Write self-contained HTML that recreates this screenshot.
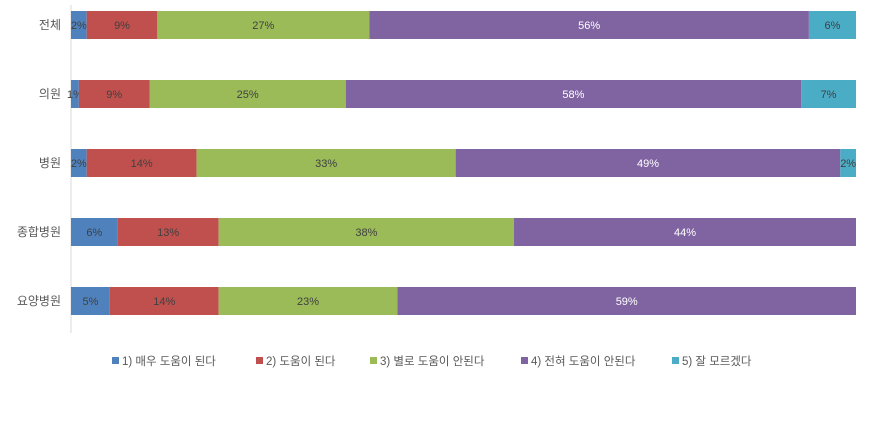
<!DOCTYPE html>
<html><head><meta charset="utf-8"><style>
body{margin:0;background:#fff;}
svg text{font-family:"Liberation Sans","Noto Sans CJK KR",sans-serif;}
</style></head><body>
<svg width="889" height="421" id="chart">
<line x1="71" y1="5" x2="71" y2="333" stroke="#d9d9d9"/>
</svg>
<script>
const categories=["전체","의원","병원","종합병원","요양병원"];
const seriesNames=["1) 매우 도움이 된다","2) 도움이 된다","3) 별로 도움이 안된다","4) 전혀 도움이 안된다","5) 잘 모르겠다"];
const s1=[2,1,2,6,5];
const s2=[9,9,14,13,14];
const s3=[27,25,33,38,23];
const s4=[56,58,49,44,59];
const s5=[6,7,2,0,0];
const colors=["#4f81bd","#c0504d","#9bbb59","#8064a2","#4bacc6"];
const series=[s1,s2,s3,s4,s5];
const svg=document.getElementById('chart');
const NS="http://www.w3.org/2000/svg";
const x0=71,x1=856,rowTop=11,rowStep=69,barH=28;
function yPos(i){return rowTop+i*rowStep;}
categories.forEach((c,i)=>{
  const total=series.reduce((a,s)=>a+s[i],0);
  let acc=0;
  const y=yPos(i);
  const t=document.createElementNS(NS,'text');
  t.setAttribute('x',61);t.setAttribute('y',y+barH/2+4);t.setAttribute('text-anchor','end');
  t.setAttribute('font-size','12');t.setAttribute('fill','#595959');t.textContent=c;
  
  
  svg.appendChild(t);
  series.forEach((s,k)=>{
    const v=s[i]; if(!v)return;
    const xa=x0+(x1-x0)*acc/total; acc+=v;
    const xb=x0+(x1-x0)*acc/total;
    const r=document.createElementNS(NS,'rect');
    r.setAttribute('x',xa);r.setAttribute('y',y);r.setAttribute('width',xb-xa);r.setAttribute('height',barH);
    r.setAttribute('fill',colors[k]);
    
    
    svg.appendChild(r);
    const l=document.createElementNS(NS,'text');
    l.setAttribute('x',(xa+xb)/2);l.setAttribute('y',y+barH/2+4);l.setAttribute('text-anchor','middle');
    l.setAttribute('font-size','11');l.setAttribute('fill',k==3?'#ffffff':'#404040');
    l.textContent=v+'%';
    
    
    svg.appendChild(l);
  });
});
const legX=[112,256,370,521,672];
seriesNames.forEach((n,k)=>{
  const r=document.createElementNS(NS,'rect');
  r.setAttribute('x',legX[k]);r.setAttribute('y',357);r.setAttribute('width',7);r.setAttribute('height',7);
  r.setAttribute('fill',colors[k]);
  
  
  svg.appendChild(r);
  const t=document.createElementNS(NS,'text');
  t.setAttribute('x',legX[k]+10);t.setAttribute('y',365);t.setAttribute('font-size','11.5');t.setAttribute('fill','#595959');
  t.textContent=n;
  
  
  svg.appendChild(t);
});
</script>
</body></html>
